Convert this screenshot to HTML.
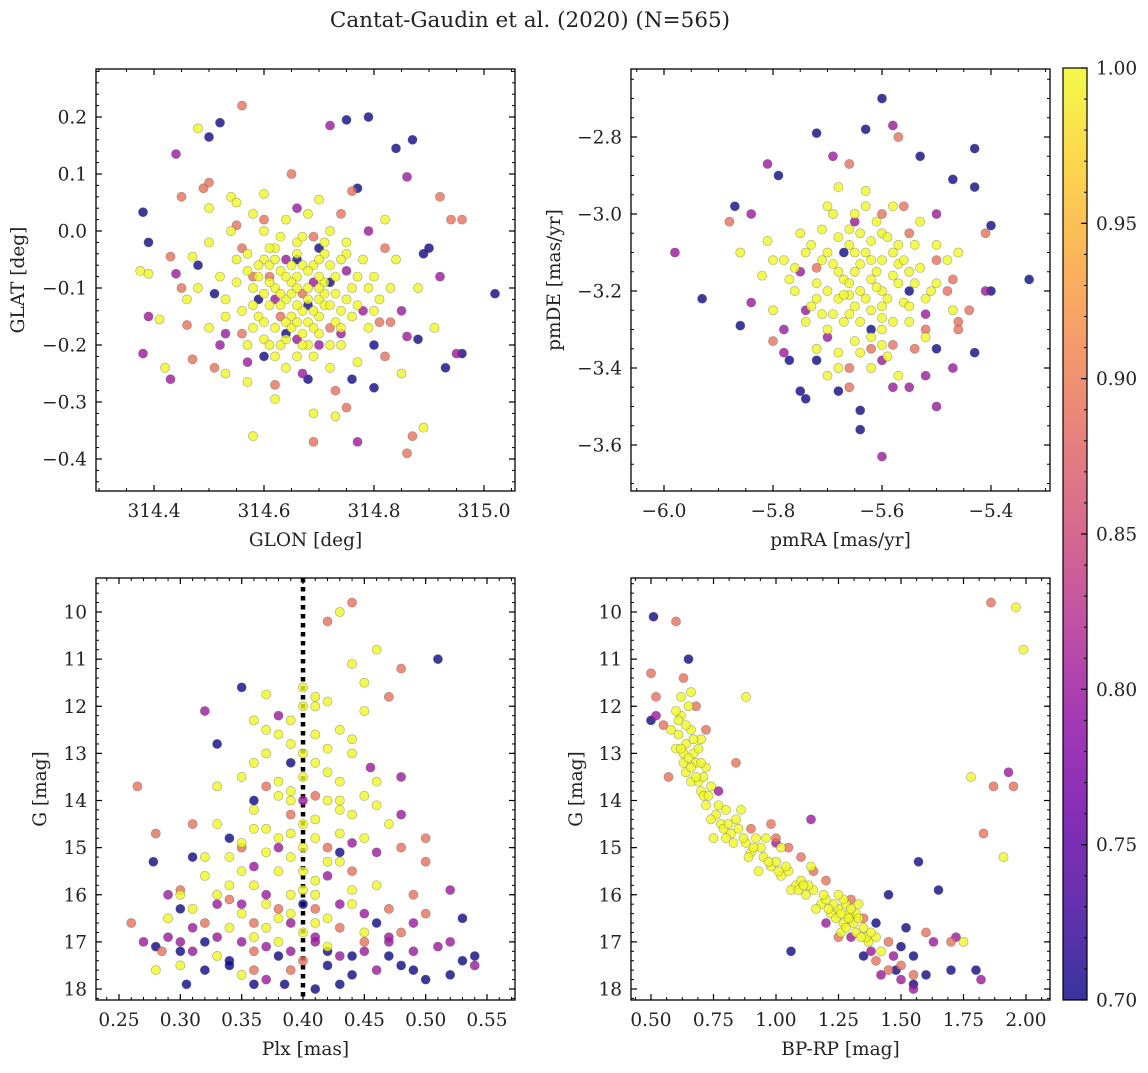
<!DOCTYPE html>
<html><head><meta charset="utf-8"><style>
html,body{margin:0;padding:0;background:#fff;}
svg text{font-family:"DejaVu Serif","Liberation Serif",serif;fill:#222;}
</style></head><body>
<svg id="chart" width="1148" height="1068" viewBox="0 0 1148 1068" xmlns="http://www.w3.org/2000/svg">
<defs>
<linearGradient id="cbgrad" x1="0" y1="1" x2="0" y2="0">
<stop offset="0" stop-color="#0d0887"/><stop offset="0.1" stop-color="#41049d"/><stop offset="0.2" stop-color="#6a00a8"/><stop offset="0.3" stop-color="#8f0da4"/><stop offset="0.4" stop-color="#b12a90"/><stop offset="0.5" stop-color="#cc4778"/><stop offset="0.6" stop-color="#e16462"/><stop offset="0.7" stop-color="#f2844b"/><stop offset="0.8" stop-color="#fca636"/><stop offset="0.9" stop-color="#fcce25"/><stop offset="1" stop-color="#f0f921"/>
</linearGradient>
</defs>
<text x="530" y="27" font-size="21.5" text-anchor="middle">Cantat-Gaudin et al. (2020) (N=565)</text>
</svg>
<script>
// probability levels for point groups
const probLevels = {Y:1.0, O:0.89, P:0.8, B:0.7};
// Panel 1: GLON vs GLAT
const p1B = [[314.38,0.033],[314.39,-0.02],[314.5,0.165],[314.52,0.19],[314.68,-0.26],[314.75,0.195],[314.77,0.075],[314.79,0.2],[314.8,-0.275],[314.84,0.145],[314.87,0.16],[314.96,-0.215],[314.93,-0.24],[315.02,-0.11],[314.9,-0.03],[314.89,-0.04],[314.88,-0.19],[314.68,-0.13],[314.59,-0.12],[314.7,-0.03],[314.6,-0.22],[314.51,-0.11],[314.8,-0.2],[314.76,-0.26],[314.48,-0.06],[314.64,-0.18],[314.72,-0.09],[314.66,-0.05]];
const p1P = [[314.38,-0.215],[314.39,-0.15],[314.43,-0.26],[314.44,0.135],[314.44,-0.075],[314.72,0.185],[314.77,-0.37],[314.86,0.095],[314.86,-0.185],[314.95,-0.215],[314.92,-0.08],[314.64,-0.05],[314.66,-0.19],[314.75,-0.07],[314.78,-0.14],[314.67,-0.25],[314.57,-0.23],[314.53,-0.18],[314.66,0.04],[314.79,0.0],[314.85,-0.14],[314.7,-0.2],[314.52,-0.2],[314.62,-0.12],[314.69,-0.09],[314.74,-0.18]];
const p1O = [[314.43,-0.045],[314.45,0.06],[314.46,-0.165],[314.47,-0.225],[314.49,0.075],[314.5,0.085],[314.51,-0.24],[314.56,0.22],[314.65,0.1],[314.69,-0.37],[314.75,-0.31],[314.76,0.07],[314.83,-0.16],[314.87,-0.36],[314.86,-0.39],[314.92,0.06],[314.94,0.02],[314.96,0.02],[314.82,-0.22],[314.61,-0.08],[314.72,-0.17],[314.56,-0.03],[314.63,-0.15],[314.73,-0.28],[314.62,-0.27],[314.55,0.01],[314.6,0.02],[314.74,0.03],[314.82,-0.03],[314.45,-0.1],[314.56,-0.18],[314.69,-0.01],[314.81,-0.16],[314.67,-0.11],[314.58,-0.08]];
const p1Y = [[314.375,-0.07],[314.39,-0.075],[314.41,-0.155],[314.42,-0.24],[314.47,-0.045],[314.48,0.18],[314.5,0.04],[314.53,-0.25],[314.54,0.06],[314.57,-0.265],[314.58,-0.36],[314.6,0.065],[314.62,-0.295],[314.69,-0.32],[314.7,0.055],[314.73,-0.325],[314.82,0.02],[314.89,-0.345],[314.91,-0.17],[314.88,-0.1],[314.85,-0.25],
[314.6,-0.05],[314.62,-0.1],[314.64,-0.12],[314.66,-0.08],[314.68,-0.1],[314.7,-0.12],[314.72,-0.06],[314.65,-0.15],[314.67,-0.18],[314.63,-0.2],[314.7,-0.18],[314.74,-0.14],[314.76,-0.1],[314.78,-0.05],[314.58,-0.1],[314.56,-0.14],[314.55,-0.05],[314.6,0.0],[314.64,0.02],[314.68,0.03],[314.72,0.0],[314.75,-0.02],[314.8,-0.08],[314.81,-0.12],[314.79,-0.17],[314.74,-0.2],[314.69,-0.22],[314.62,-0.17],[314.59,-0.15],[314.57,-0.2],[314.53,-0.12],[314.52,-0.08],[314.54,0.0],[314.58,0.03],[314.66,-0.04],[314.69,-0.06],[314.71,-0.09],[314.73,-0.11],[314.65,-0.11],[314.63,-0.07],[314.61,-0.13],[314.67,-0.14],[314.7,-0.15],[314.77,-0.13],[314.66,-0.02],[314.62,-0.03],[314.57,-0.07],[314.6,-0.19],[314.64,-0.24],[314.72,-0.24],[314.77,-0.23],[314.83,-0.1],[314.84,-0.05],[314.5,-0.17],[314.48,-0.1],[314.46,-0.12],[314.5,-0.02],[314.55,0.05],
[314.61,-0.06],[314.65,-0.09],[314.68,-0.16],[314.71,-0.13],[314.64,-0.16],[314.67,-0.06],[314.7,-0.08],[314.63,-0.11],[314.66,-0.13],[314.73,-0.16],[314.59,-0.08],[314.75,-0.04],[314.61,-0.2],[314.68,-0.2],[314.66,-0.22],[314.71,-0.02],
[314.57,-0.04],[314.59,-0.06],[314.61,-0.09],[314.63,-0.13],[314.65,-0.17],[314.67,-0.2],[314.69,-0.17],[314.71,-0.11],[314.73,-0.08],[314.75,-0.12],[314.77,-0.08],[314.74,-0.17],[314.72,-0.2],[314.62,-0.05],[314.64,-0.08],[314.66,-0.1],[314.68,-0.12],[314.7,-0.1],[314.72,-0.13],[314.65,-0.06],[314.63,-0.01],[314.67,-0.01],[314.71,-0.04],[314.6,-0.11],[314.58,-0.17],[314.6,-0.16],[314.62,-0.22],[314.68,-0.07],[314.76,-0.15],[314.79,-0.1],[314.58,-0.13],[314.69,-0.14],[314.64,-0.19],[314.61,-0.03],[314.74,-0.05],[314.8,-0.14],[314.66,-0.16],[314.7,-0.05],[314.55,-0.09],[314.53,-0.15]];
// Panel 2: pmRA vs pmDE
const p2B = [[-5.93,-3.22],[-5.87,-2.98],[-5.86,-3.29],[-5.79,-2.9],[-5.77,-3.38],[-5.75,-3.46],[-5.74,-3.48],[-5.72,-2.79],[-5.63,-2.78],[-5.6,-2.7],[-5.53,-2.85],[-5.47,-2.91],[-5.43,-2.83],[-5.43,-2.93],[-5.4,-3.03],[-5.33,-3.17],[-5.4,-3.2],[-5.43,-3.36],[-5.64,-3.56],[-5.64,-3.51],[-5.62,-3.3],[-5.67,-3.1],[-5.55,-3.2],[-5.72,-3.38],[-5.5,-3.35],[-5.68,-3.46]];
const p2P = [[-5.98,-3.1],[-5.84,-3.0],[-5.81,-2.87],[-5.69,-2.85],[-5.58,-2.77],[-5.41,-3.2],[-5.5,-3.5],[-5.6,-3.63],[-5.55,-3.45],[-5.52,-3.42],[-5.47,-3.4],[-5.84,-3.23],[-5.78,-3.36],[-5.5,-3.0],[-5.7,-3.32],[-5.74,-3.25],[-5.6,-3.38],[-5.65,-3.02],[-5.78,-3.3],[-5.52,-3.26],[-5.58,-3.45],[-5.75,-3.15]];
const p2O = [[-5.66,-2.87],[-5.57,-2.8],[-5.41,-3.05],[-5.66,-3.45],[-5.46,-3.28],[-5.44,-3.25],[-5.88,-3.02],[-5.8,-3.33],[-5.47,-3.17],[-5.5,-3.12],[-5.52,-3.3],[-5.46,-3.3],[-5.6,-3.0],[-5.56,-2.98],[-5.62,-3.35],[-5.72,-3.14],[-5.58,-3.34],[-5.48,-3.2],[-5.54,-3.35],[-5.66,-3.4],[-5.55,-3.05]];
const p2Y = [[-5.68,-3.4],[-5.86,-3.1],[-5.46,-3.1],[-5.8,-3.12],[-5.7,-3.1],[-5.65,-3.15],[-5.6,-3.2],[-5.62,-3.25],[-5.68,-3.22],[-5.72,-3.18],[-5.58,-3.1],[-5.55,-3.15],[-5.52,-3.22],[-5.6,-3.05],[-5.65,-3.0],[-5.7,-2.98],[-5.75,-3.05],[-5.78,-3.12],[-5.76,-3.2],[-5.74,-3.28],[-5.7,-3.3],[-5.65,-3.33],[-5.6,-3.3],[-5.55,-3.28],[-5.5,-3.18],[-5.5,-3.08],[-5.53,-3.02],[-5.58,-2.98],[-5.63,-2.94],[-5.68,-2.93],[-5.66,-3.08],[-5.62,-3.12],[-5.64,-3.2],[-5.66,-3.26],[-5.56,-3.23],[-5.59,-3.37],[-5.62,-3.4],[-5.68,-3.36],[-5.72,-3.35],[-5.8,-3.25],[-5.82,-3.16],[-5.81,-3.07],[-5.48,-3.12],[-5.47,-3.25],[-5.52,-3.32],[-5.57,-3.42],[-5.7,-3.42],[-5.64,-3.05],[-5.61,-3.15],[-5.67,-3.17],[-5.57,-3.18],[-5.73,-3.24],[-5.6,-3.27],[-5.54,-3.08],[-5.76,-3.14],[-5.71,-3.04],[-5.63,-3.1],[-5.69,-3.13],[-5.59,-3.22],[-5.66,-3.21],[-5.62,-3.07],[-5.71,-3.26],[-5.57,-3.13],[-5.64,-3.28],
[-5.6,-3.12],[-5.62,-3.17],[-5.64,-3.13],[-5.66,-3.18],[-5.68,-3.15],[-5.7,-3.2],[-5.58,-3.16],[-5.56,-3.12],[-5.54,-3.18],[-5.6,-3.24],[-5.63,-3.22],[-5.65,-3.24],[-5.67,-3.28],[-5.69,-3.26],[-5.71,-3.12],[-5.73,-3.08],[-5.61,-3.02],[-5.59,-3.06],[-5.66,-3.04],[-5.68,-3.06],[-5.72,-3.22],[-5.62,-3.32],[-5.58,-3.28],[-5.55,-3.24],[-5.53,-3.14],[-5.63,-2.98],[-5.69,-3.0],[-5.74,-3.1],[-5.77,-3.17],[-5.64,-3.36],[-5.6,-3.34],[-5.51,-3.2],[-5.57,-3.08],[-5.65,-3.1],[-5.61,-3.19],[-5.67,-3.21]];
// Panel 3: Plx vs G
const p3B = [[0.278,15.3],[0.3,17.2],[0.305,17.9],[0.33,12.8],[0.35,11.6],[0.51,11.0],[0.53,16.5],[0.54,17.3],[0.5,17.8],[0.47,17.3],[0.43,17.9],[0.42,17.2],[0.41,18.0],[0.385,17.9],[0.34,17.4],[0.32,17.0],[0.3,16.3],[0.34,17.5],[0.38,17.3],[0.42,17.5],[0.44,17.7],[0.46,16.6],[0.36,14.0],[0.34,14.8],[0.4,16.2],[0.48,17.5],[0.31,15.2],[0.39,13.2],[0.43,15.1],[0.52,17.7],[0.28,17.1],[0.32,17.6],[0.36,17.9],[0.44,17.3],[0.49,17.6],[0.53,17.4]];
const p3P = [[0.29,16.9],[0.32,12.1],[0.38,12.2],[0.48,13.5],[0.52,15.9],[0.54,17.5],[0.52,17.0],[0.46,17.6],[0.455,13.3],[0.37,17.8],[0.33,16.2],[0.35,17.0],[0.37,16.0],[0.39,16.6],[0.41,17.0],[0.43,16.2],[0.45,16.4],[0.47,16.9],[0.49,17.2],[0.38,15.0],[0.42,15.6],[0.44,14.9],[0.31,17.2],[0.29,16.0],[0.36,15.4],[0.4,14.0],[0.46,15.1],[0.48,14.3],[0.31,16.7],[0.33,16.9],[0.35,16.2],[0.37,17.1],[0.39,17.2],[0.41,16.9],[0.43,17.3],[0.45,17.2],[0.47,17.0],[0.49,16.6],[0.51,17.1],[0.27,17.0],[0.3,17.0]];
const p3O = [[0.26,16.6],[0.265,13.7],[0.28,14.7],[0.285,17.2],[0.31,14.5],[0.42,10.2],[0.44,9.8],[0.47,11.8],[0.48,11.2],[0.5,14.8],[0.49,16.0],[0.5,15.3],[0.48,16.8],[0.36,17.6],[0.34,16.1],[0.36,16.6],[0.38,16.3],[0.41,16.3],[0.43,16.7],[0.45,17.0],[0.47,16.3],[0.4,17.4],[0.36,17.2],[0.32,16.6],[0.3,15.9],[0.39,14.3],[0.42,15.0],[0.44,15.5],[0.48,15.0],[0.35,15.0],[0.37,13.7],[0.41,13.9],[0.5,16.4],[0.39,17.6]];
const p3Y = [[0.28,17.6],[0.36,12.3],[0.37,11.75],[0.38,13.6],[0.4,11.6],[0.43,10.0],[0.44,11.1],[0.45,11.5],[0.46,10.8],[0.35,17.7],[0.35,13.5],[0.36,14.2],[0.37,13.0],[0.38,14.8],[0.39,13.8],[0.4,14.5],[0.41,13.2],[0.42,14.0],[0.43,13.6],[0.44,14.3],[0.45,14.8],[0.38,15.5],[0.36,15.8],[0.34,15.2],[0.33,16.0],[0.32,15.6],[0.35,16.4],[0.37,16.2],[0.39,16.0],[0.41,15.7],[0.43,15.3],[0.42,16.5],[0.4,16.8],[0.38,17.0],[0.36,16.9],[0.34,16.7],[0.31,16.3],[0.3,16.0],[0.44,16.2],[0.46,15.8],[0.45,16.8],[0.43,12.5],[0.41,12.0],[0.39,12.8],[0.42,12.9],[0.4,13.5],[0.37,14.6],[0.35,14.9],[0.39,15.2],[0.41,14.8],[0.43,14.7],[0.44,13.0],[0.36,13.2],[0.33,14.5],[0.47,14.5],[0.46,13.6],[0.4,15.5],[0.38,16.5],[0.42,17.1],[0.29,16.5],[0.3,17.5],[0.33,17.3],[0.37,12.5],[0.4,12.0],[0.45,12.1],[0.34,15.8],[0.32,15.2],[0.4,15.0],[0.41,16.0],[0.39,14.0],
[0.39,12.3],[0.41,12.6],[0.42,13.4],[0.4,13.0],[0.43,14.2],[0.41,14.4],[0.39,14.7],[0.42,15.3],[0.4,15.9],[0.38,13.9],[0.37,15.1],[0.44,15.9],[0.43,14.0],[0.36,14.6],[0.45,13.9],[0.41,11.8],[0.38,12.6],[0.42,11.9],[0.44,12.7],[0.46,14.1],[0.35,15.5],[0.33,13.7],[0.39,16.4],[0.41,16.6],[0.37,16.7]];
// Panel 4: BP-RP vs G
const p4B = [[0.51,10.1],[0.65,11.0],[1.06,17.2],[1.45,16.0],[1.5,17.1],[1.55,17.3],[1.57,15.3],[1.6,17.7],[1.65,15.9],[1.7,17.6],[1.8,17.6],[1.55,17.9],[1.48,17.6],[1.35,17.3],[0.5,12.3],[1.4,16.6],[1.52,16.7]];
const p4P = [[0.52,12.2],[1.0,14.9],[1.14,14.4],[1.42,17.7],[1.5,17.8],[1.55,18.0],[1.63,17.0],[1.72,16.9],[1.93,13.4],[1.82,17.8],[1.3,16.9],[1.47,17.3],[1.38,17.2],[1.2,16.6],[0.77,13.8]];
const p4O = [[0.5,11.3],[0.52,11.8],[0.55,12.4],[0.57,13.5],[0.6,10.2],[0.63,11.4],[0.68,12.0],[0.72,12.5],[0.84,13.2],[1.0,14.8],[1.1,15.2],[1.2,15.7],[1.3,16.1],[1.35,16.5],[1.4,17.4],[1.45,17.6],[1.5,17.5],[1.55,17.7],[1.6,16.8],[1.83,14.7],[1.86,9.8],[1.87,13.7],[1.95,13.7],[1.7,17.0],[1.45,17.0],[1.25,16.9],[0.9,14.6],[1.05,15.0],[1.15,15.5],[0.98,14.5]];
const p4Y = [[0.58,12.5],[0.6,12.9],[0.62,12.2],[0.63,13.0],[0.64,13.4],[0.65,12.0],[0.66,13.6],[0.68,13.2],[0.7,13.8],[0.72,14.1],[0.74,13.7],[0.76,14.3],[0.78,14.5],[0.8,14.2],[0.82,14.7],[0.85,14.6],[0.88,14.9],[0.9,15.1],[0.92,14.8],[0.95,15.2],[0.98,15.4],[1.0,15.3],[1.02,15.6],[1.05,15.5],[1.08,15.8],[1.1,15.7],[1.12,16.0],[1.15,15.9],[1.18,16.2],[1.2,16.1],[1.22,16.4],[1.25,16.3],[1.27,16.6],[1.3,16.5],[1.32,16.8],[1.35,16.7],[1.37,17.0],[1.4,16.9],[1.42,17.2],[0.7,12.7],[0.72,13.3],[0.66,12.5],[0.62,11.8],[0.66,11.7],[0.88,11.8],[0.75,14.8],[0.93,15.5],[1.02,15.0],[1.14,15.4],[0.86,14.2],[0.96,14.8],[1.28,16.2],[1.33,16.2],[1.75,17.0],[1.91,15.2],[1.96,9.9],[1.99,10.8],[1.78,13.5],[1.32,16.4],[1.26,16.8],[1.16,16.3],[0.61,12.6],[0.69,13.6],[0.8,14.8],[1.06,15.9],[0.64,12.8],[0.67,13.0],[0.71,13.5],[0.84,14.4],[0.94,15.0],[1.04,15.4],[1.13,15.8],[1.23,16.2],[1.29,16.4],[1.36,16.9],
[0.6,12.1],[0.61,12.3],[0.62,12.9],[0.63,13.2],[0.64,12.4],[0.65,13.1],[0.66,13.3],[0.67,12.7],[0.68,13.5],[0.69,12.9],[0.7,13.2],[0.71,13.9],[0.73,13.9],[0.74,14.4],[0.77,14.1],[0.79,14.6],[0.81,14.5],[0.83,14.9],[0.87,14.8],[0.89,15.2],[0.91,15.0],[0.97,15.3],[1.01,15.5],[1.09,15.9],[1.11,15.8],[1.19,16.0],[1.21,16.3],[1.24,16.5],[1.26,16.4],[1.28,16.7],[1.31,16.6],[1.34,16.9],[1.29,16.5],[1.27,16.1],[1.3,16.3],[1.33,16.5],[1.38,16.8],[1.25,16.0]];
// tick arrays
const p1XTicks = [314.4,314.6,314.8,315.0];
const p1YTicks = [0.2,0.1,0.0,-0.1,-0.2,-0.3,-0.4];
const p2XTicks = [-6.0,-5.8,-5.6,-5.4];
const p2YTicks = [-2.8,-3.0,-3.2,-3.4,-3.6];
const p3XTicks = [0.25,0.30,0.35,0.40,0.45,0.50,0.55];
const gTicks = [10,11,12,13,14,15,16,17,18];
const p4XTicks = [0.50,0.75,1.00,1.25,1.50,1.75,2.00];
const cbTicks = [0.70,0.75,0.80,0.85,0.90,0.95,1.00];
const plxLine = 0.40;

const NS='http://www.w3.org/2000/svg';
const svg=document.getElementById('chart');
const FS=18.5;
function el(tag,attrs,parent){const e=document.createElementNS(NS,tag);for(const k in attrs)e.setAttribute(k,attrs[k]);(parent||svg).appendChild(e);return e;}
function scale(d0,d1,r0,r1){return v=>r0+(v-d0)*(r1-r0)/(d1-d0);}
const stops=['#0d0887','#41049d','#6a00a8','#8f0da4','#b12a90','#cc4778','#e16462','#f2844b','#fca636','#fcce25','#f0f921'];
function hex(h){return [1,3,5].map(i=>parseInt(h.substr(i,2),16));}
function plasma(p){let t=Math.max(0,Math.min(1,(p-0.7)/0.3))*10;const i=Math.min(9,Math.floor(t)),f=t-i;const a=hex(stops[i]),b=hex(stops[i+1]);return 'rgb('+a.map((v,k)=>Math.round(v+(b[k]-v)*f)).join(',')+')';}
function fmt(v,d){return v.toFixed(d).replace('-','\u2212');}

function panel(cfg){
  const g=el('g',{});
  
  
  const [L,T,R,B]=cfg.box;
  const sx=scale(cfg.xd[0],cfg.xd[1],cfg.xr[0],cfg.xr[1]);
  const sy=scale(cfg.yd[0],cfg.yd[1],cfg.yr[0],cfg.yr[1]);
  const clip='clip-'+cfg.name;
  const cp=el('clipPath',{id:clip},g);el('rect',{x:L,y:T,width:R-L,height:B-T},cp);
  const pg=el('g',{'clip-path':'url(#'+clip+')'},g);
  
  
  if(cfg.vline!==undefined){
    const ln=el('line',{x1:sx(cfg.vline),x2:sx(cfg.vline),y1:T,y2:B,stroke:'#000','stroke-width':4.5,'stroke-dasharray':'4.5 4.5'},pg);
    
    
  }
  cfg.groups.forEach(([pts,lvl])=>{
    const col=plasma(probLevels[lvl]);
    pts.forEach(p=>{
      const c=el('circle',{cx:sx(p[0]),cy:sy(p[1]),r:4.6,fill:col,'fill-opacity':0.8,stroke:'#555','stroke-opacity':0.5,'stroke-width':0.6},pg);
      
      
    });
  });
  const frame=el('rect',{x:L,y:T,width:R-L,height:B-T,fill:'none',stroke:'#000','stroke-width':1.3},g);
  
  
  for(let k=-200;k<400;k++){const v=cfg.xMinor0+k*cfg.xMinor;const x=sx(v);if(x<L+0.5||x>R-0.5)continue;
    el('line',{x1:x,x2:x,y1:B,y2:B-3,stroke:'#000','stroke-width':1},g);el('line',{x1:x,x2:x,y1:T,y2:T+3,stroke:'#000','stroke-width':1},g);}
  cfg.xt.forEach(v=>{const x=sx(v);
    el('line',{x1:x,x2:x,y1:B,y2:B-6,stroke:'#000','stroke-width':1.2},g);el('line',{x1:x,x2:x,y1:T,y2:T+6,stroke:'#000','stroke-width':1.2},g);
    const t=el('text',{x:x,y:B+26,'font-size':FS,'text-anchor':'middle'},g);t.textContent=fmt(v,cfg.xdec);
    
    });
  for(let k=-200;k<400;k++){const v=cfg.yMinor0+k*cfg.yMinor;const y=sy(v);if(y<T+0.5||y>B-0.5)continue;
    el('line',{x1:L,x2:L+3,y1:y,y2:y,stroke:'#000','stroke-width':1},g);el('line',{x1:R,x2:R-3,y1:y,y2:y,stroke:'#000','stroke-width':1},g);}
  cfg.yt.forEach(v=>{const y=sy(v);
    el('line',{x1:L,x2:L+6,y1:y,y2:y,stroke:'#000','stroke-width':1.2},g);el('line',{x1:R,x2:R-6,y1:y,y2:y,stroke:'#000','stroke-width':1.2},g);
    const t=el('text',{x:L-9,y:y+6.5,'font-size':FS,'text-anchor':'end'},g);t.textContent=fmt(v,cfg.ydec);
    
    });
  const xl=el('text',{x:(L+R)/2,y:B+55,'font-size':FS,'text-anchor':'middle'},g);xl.textContent=cfg.xlabel;
  
  
  const yx=cfg.ylx,yy=(T+B)/2;
  const yl=el('text',{x:yx,y:yy,'font-size':FS,'text-anchor':'middle',transform:'rotate(-90 '+yx+' '+yy+')'},g);yl.textContent=cfg.ylabel;
  
  
}
panel({name:'glon-glat-panel',box:[96,69,515,491],xd:[314.4,315.0],xr:[154,484],yd:[0.2,-0.4],yr:[117,459],
  xt:p1XTicks,yt:p1YTicks,xdec:1,ydec:1,xMinor0:314.4,xMinor:0.05,yMinor0:0,yMinor:0.02,xlabel:'GLON [deg]',ylabel:'GLAT [deg]',ylx:24,
  groups:[[p1B,'B'],[p1P,'P'],[p1O,'O'],[p1Y,'Y']]});
panel({name:'proper-motion-panel',box:[631,69,1050,491],xd:[-6.0,-5.4],xr:[664,991],yd:[-2.8,-3.6],yr:[137,445],
  xt:p2XTicks,yt:p2YTicks,xdec:1,ydec:1,xMinor0:-6.0,xMinor:0.05,yMinor0:-3.0,yMinor:0.05,xlabel:'pmRA [mas/yr]',ylabel:'pmDE [mas/yr]',ylx:560,
  groups:[[p2B,'B'],[p2P,'P'],[p2O,'O'],[p2Y,'Y']]});
panel({name:'parallax-mag-panel',box:[96,578,515,1000],xd:[0.25,0.55],xr:[119,487],yd:[10,18],yr:[612,989],
  xt:p3XTicks,yt:gTicks,xdec:2,ydec:0,xMinor0:0.25,xMinor:0.01,yMinor0:10,yMinor:0.2,xlabel:'Plx [mas]',ylabel:'G [mag]',ylx:46,vline:plxLine,
  groups:[[p3B,'B'],[p3P,'P'],[p3O,'O'],[p3Y,'Y']]});
panel({name:'cmd-panel',box:[631,578,1050,1000],xd:[0.5,2.0],xr:[651,1026],yd:[10,18],yr:[612,989],
  xt:p4XTicks,yt:gTicks,xdec:2,ydec:0,xMinor0:0.5,xMinor:0.0625,yMinor0:10,yMinor:0.2,xlabel:'BP-RP [mag]',ylabel:'G [mag]',ylx:582,
  groups:[[p4B,'B'],[p4P,'P'],[p4O,'O'],[p4Y,'Y']]});
// colorbar
const cb=el('g',{});


const cbT=68,cbB=1000,cbL=1063,cbR=1087;
const csy=scale(0.7,1.0,cbB,cbT);
el('rect',{x:cbL,y:cbT,width:cbR-cbL,height:cbB-cbT,fill:'url(#cbgrad)','fill-opacity':0.82},cb);
el('rect',{x:cbL,y:cbT,width:cbR-cbL,height:cbB-cbT,fill:'none',stroke:'#000','stroke-width':1.2},cb);
for(let k=0;k<=30;k++){const y=csy(0.7+k*0.01);el('line',{x1:cbR,x2:cbR-3,y1:y,y2:y,stroke:'#000','stroke-width':1},cb);}
cbTicks.forEach(v=>{const y=csy(v);el('line',{x1:cbR,x2:cbR-6,y1:y,y2:y,stroke:'#000','stroke-width':1.2},cb);
  const t=el('text',{x:cbR+9,y:y+6.5,'font-size':FS},cb);t.textContent=v.toFixed(2);
  
  });
</script>
</body></html>
